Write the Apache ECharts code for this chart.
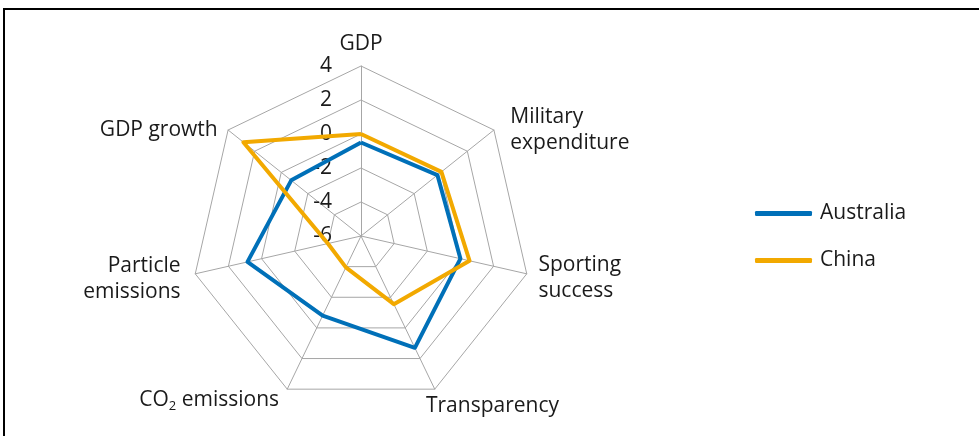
<!DOCTYPE html>
<html>
<head>
<meta charset="utf-8">
<script src="https://cdn.jsdelivr.net/npm/echarts@6/dist/echarts.min.js"></script>
<style>
html,body{margin:0;padding:0;background:#fff;}
#chart{width:979px;height:436px;}
</style>
</head>
<body>
<div id="chart"></div>
<script>
// Axes in clockwise order, starting at the top
var categories = ['GDP', 'Military\nexpenditure', 'Sporting\nsuccess', 'Transparency', 'CO2 emissions', 'Particle\nemissions', 'GDP growth'];
var australia = [-0.5, -0.25, 0, 1.3, -0.8, 0.85, -0.75];
var china = [0, 0.05, 0.55, -1.55, -3.95, -4, 2.85];
var seriesNames = ['Australia', 'China'];
var axisMin = -6, axisMax = 4;

// ECharts places radar indicators counter-clockwise: keep first, reverse the rest
function ccw(arr) { return [arr[0]].concat(arr.slice(1).reverse()); }

var textColor = '#1a1a1a';
var gridColor = '#a6a6a6';
var font = '"Open Sans", "Noto Sans", sans-serif';
var fs = 21;

// rich style key per axis name (used for small placement nudges)
var nameStyle = {
  'GDP': 'n0',
  'Military\nexpenditure': 'n1',
  'Sporting\nsuccess': 'n2',
  'Transparency': 'n3',
  'CO2 emissions': 'n4',
  'Particle\nemissions': 'n5',
  'GDP growth': 'n6'
};
function rs(pad) {
  return { fontSize: fs, color: textColor, fontFamily: font, lineHeight: 26, padding: pad };
}

var indicators = ccw(categories).map(function (c, i) {
  var ind = { name: c, min: axisMin, max: axisMax };
  if (i === 0) {
    ind.axisLabel = { show: true, fontSize: fs, color: textColor, fontFamily: font, margin: 29, align: 'right' };
  }
  return ind;
});

var chart = echarts.init(document.getElementById('chart'));
chart.setOption({
  animation: false,
  textStyle: { fontFamily: font },
  graphic: [{
    type: 'polyline',
    shape: { points: [[4, 436], [4, 9], [979, 9]] },
    style: { stroke: '#000', lineWidth: 2, fill: null }
  }],
  legend: {
    orient: 'vertical',
    left: 750,
    top: 198,
    itemGap: 26,
    itemWidth: 57,
    itemHeight: 5,
    icon: 'roundRect',
    textStyle: { fontSize: fs, color: textColor, fontFamily: font, padding: [0, 0, 0, 3] },
    data: seriesNames
  },
  radar: {
    center: [361, 236],
    radius: 170,
    startAngle: 90,
    shape: 'polygon',
    splitNumber: 5,
    nameGap: 12,
    axisName: {
      color: textColor,
      fontSize: fs,
      fontFamily: font,
      lineHeight: 26,
      formatter: function (name) {
        var key = nameStyle[name];
        if (name.indexOf('CO2') === 0) {
          return '{' + key + '|CO}{sub|2}{' + key + 'b| emissions}';
        }
        return name.split('\n').map(function (l) { return '{' + key + '|' + l + '}'; }).join('\n');
      },
      rich: {
        n0: rs([6, 0, 0, 0]),
        n1: rs([14, 0, 0, 7]),
        n2: rs([4, 0, 0, 0]),
        n3: rs([12, 0, 0, -14]),
        n4: rs([0, 0, 0, 0]),
        n4b: rs([0, 3, 0, 0]),
        n5: rs([6, 3, 0, 0]),
        n6: rs([14, 1, 0, 0]),
        sub: { fontSize: 13, lineHeight: 26, verticalAlign: 'bottom', padding: [12, 0, 0, 0], color: textColor, fontFamily: font }
      }
    },
    axisLine: { lineStyle: { color: gridColor, width: 1 } },
    splitLine: { lineStyle: { color: gridColor, width: 1 } },
    splitArea: { show: false },
    axisTick: { show: false },
    axisLabel: { show: false },
    indicator: indicators
  },
  series: [{
    type: 'radar',
    symbol: 'none',
    data: [
      { name: seriesNames[0], value: ccw(australia), lineStyle: { color: '#0070b8', width: 4 }, itemStyle: { color: '#0070b8' } },
      { name: seriesNames[1], value: ccw(china), lineStyle: { color: '#f2a900', width: 4 }, itemStyle: { color: '#f2a900' } }
    ]
  }]
});
</script>
</body>
</html>
